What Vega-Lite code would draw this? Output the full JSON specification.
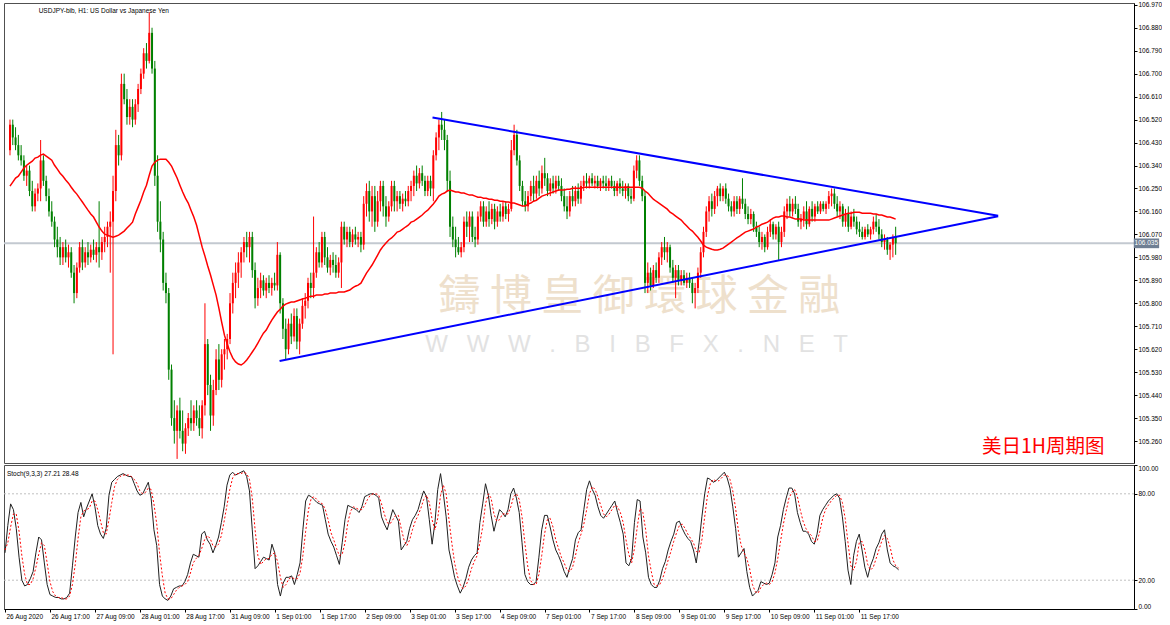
{
"$schema": "https://vega.github.io/schema/vega-lite/v6.json",
"padding": {"left": 2, "top": 1, "right": 0, "bottom": 0},
"background": "white",
"spacing": 2,
"bounds": "flush",
"config": {
  "font": "Liberation Sans",
  "view": {"stroke": "#505050", "strokeWidth": 1},
  "axis": {"labelFont": "Liberation Sans", "labelFontSize": 6.5, "labelColor": "#000000", "domainColor": "#000000", "tickColor": "#000000", "tickSize": 3, "labelPadding": 1, "grid": false, "title": null, "labelOverlap": false}
},
"datasets": {
"bars": [
{"i":0,"o":106.40,"h":106.52,"l":106.38,"c":106.50,"m":106.259,"k":39,"d":41},
{"i":1,"o":106.50,"h":106.52,"l":106.42,"c":106.45,"m":106.275,"k":58,"d":46},
{"i":2,"o":106.45,"h":106.49,"l":106.40,"c":106.42,"m":106.291,"k":73,"d":57},
{"i":3,"o":106.42,"h":106.46,"l":106.36,"c":106.38,"m":106.298,"k":69,"d":66},
{"i":4,"o":106.38,"h":106.42,"l":106.34,"c":106.36,"m":106.314,"k":56,"d":66},
{"i":5,"o":106.36,"h":106.38,"l":106.28,"c":106.30,"m":106.330,"k":36,"d":54},
{"i":6,"o":106.30,"h":106.34,"l":106.26,"c":106.32,"m":106.341,"k":20,"d":37},
{"i":7,"o":106.32,"h":106.34,"l":106.22,"c":106.24,"m":106.349,"k":16,"d":24},
{"i":8,"o":106.24,"h":106.28,"l":106.16,"c":106.18,"m":106.357,"k":17,"d":17},
{"i":9,"o":106.18,"h":106.25,"l":106.16,"c":106.23,"m":106.369,"k":21,"d":17},
{"i":10,"o":106.23,"h":106.27,"l":106.20,"c":106.25,"m":106.373,"k":26,"d":21},
{"i":11,"o":106.25,"h":106.44,"l":106.20,"c":106.36,"m":106.381,"k":39,"d":29},
{"i":12,"o":106.36,"h":106.38,"l":106.26,"c":106.28,"m":106.385,"k":50,"d":38},
{"i":13,"o":106.28,"h":106.30,"l":106.20,"c":106.22,"m":106.377,"k":48,"d":46},
{"i":14,"o":106.22,"h":106.25,"l":106.14,"c":106.16,"m":106.369,"k":32,"d":44},
{"i":15,"o":106.16,"h":106.20,"l":106.10,"c":106.12,"m":106.361,"k":17,"d":32},
{"i":16,"o":106.12,"h":106.14,"l":106.02,"c":106.05,"m":106.341,"k":10,"d":19},
{"i":17,"o":106.05,"h":106.10,"l":105.98,"c":106.02,"m":106.326,"k":9,"d":12},
{"i":18,"o":106.02,"h":106.06,"l":105.95,"c":105.98,"m":106.310,"k":8,"d":9},
{"i":19,"o":105.98,"h":106.04,"l":105.95,"c":106.02,"m":106.298,"k":8,"d":8},
{"i":20,"o":106.02,"h":106.05,"l":105.96,"c":105.98,"m":106.283,"k":7,"d":8},
{"i":21,"o":105.98,"h":106.03,"l":105.94,"c":106.00,"m":106.271,"k":7,"d":7},
{"i":22,"o":106.00,"h":106.02,"l":105.90,"c":105.92,"m":106.255,"k":8,"d":7},
{"i":23,"o":105.92,"h":105.95,"l":105.80,"c":105.84,"m":106.240,"k":11,"d":9},
{"i":24,"o":105.84,"h":105.96,"l":105.82,"c":105.94,"m":106.228,"k":30,"d":17},
{"i":25,"o":105.94,"h":106.04,"l":105.92,"c":106.02,"m":106.212,"k":50,"d":31},
{"i":26,"o":106.02,"h":106.05,"l":105.93,"c":105.96,"m":106.197,"k":67,"d":49},
{"i":27,"o":105.96,"h":106.02,"l":105.94,"c":106.00,"m":106.181,"k":74,"d":64},
{"i":28,"o":106.00,"h":106.04,"l":105.95,"c":105.98,"m":106.165,"k":64,"d":68},
{"i":29,"o":105.98,"h":106.03,"l":105.96,"c":106.01,"m":106.150,"k":70,"d":69},
{"i":30,"o":106.01,"h":106.05,"l":105.97,"c":105.99,"m":106.138,"k":75,"d":70},
{"i":31,"o":105.99,"h":106.04,"l":105.96,"c":106.02,"m":106.118,"k":80,"d":75},
{"i":32,"o":106.02,"h":106.20,"l":105.94,"c":106.00,"m":106.099,"k":71,"d":75},
{"i":33,"o":106.00,"h":106.06,"l":105.97,"c":106.04,"m":106.083,"k":58,"d":69},
{"i":34,"o":106.04,"h":106.10,"l":106.00,"c":106.06,"m":106.071,"k":52,"d":61},
{"i":35,"o":106.06,"h":106.12,"l":106.02,"c":106.10,"m":106.067,"k":49,"d":53},
{"i":36,"o":106.10,"h":106.16,"l":105.92,"c":106.12,"m":106.063,"k":56,"d":52},
{"i":37,"o":106.12,"h":106.30,"l":105.60,"c":106.24,"m":106.059,"k":79,"d":62},
{"i":38,"o":106.24,"h":106.48,"l":106.20,"c":106.42,"m":106.063,"k":88,"d":74},
{"i":39,"o":106.42,"h":106.46,"l":106.34,"c":106.38,"m":106.067,"k":90,"d":85},
{"i":40,"o":106.38,"h":106.70,"l":106.36,"c":106.66,"m":106.075,"k":92,"d":90},
{"i":41,"o":106.66,"h":106.70,"l":106.58,"c":106.60,"m":106.083,"k":93,"d":92},
{"i":42,"o":106.60,"h":106.64,"l":106.50,"c":106.53,"m":106.095,"k":94,"d":93},
{"i":43,"o":106.53,"h":106.60,"l":106.50,"c":106.57,"m":106.106,"k":93,"d":93},
{"i":44,"o":106.57,"h":106.60,"l":106.49,"c":106.52,"m":106.118,"k":92,"d":93},
{"i":45,"o":106.52,"h":106.60,"l":106.50,"c":106.58,"m":106.150,"k":92,"d":92},
{"i":46,"o":106.58,"h":106.66,"l":106.55,"c":106.64,"m":106.177,"k":87,"d":90},
{"i":47,"o":106.64,"h":106.72,"l":106.62,"c":106.70,"m":106.204,"k":82,"d":87},
{"i":48,"o":106.70,"h":106.80,"l":106.68,"c":106.78,"m":106.236,"k":79,"d":82},
{"i":49,"o":106.78,"h":106.82,"l":106.72,"c":106.75,"m":106.263,"k":80,"d":80},
{"i":50,"o":106.75,"h":106.94,"l":106.74,"c":106.86,"m":106.302,"k":84,"d":81},
{"i":51,"o":106.86,"h":106.88,"l":106.70,"c":106.72,"m":106.338,"k":88,"d":84},
{"i":52,"o":106.72,"h":106.75,"l":106.26,"c":106.30,"m":106.353,"k":77,"d":83},
{"i":53,"o":106.30,"h":106.38,"l":106.08,"c":106.12,"m":106.361,"k":55,"d":73},
{"i":54,"o":106.12,"h":106.20,"l":106.00,"c":106.05,"m":106.365,"k":44,"d":59},
{"i":55,"o":106.05,"h":106.08,"l":105.85,"c":105.88,"m":106.365,"k":17,"d":39},
{"i":56,"o":105.88,"h":105.92,"l":105.80,"c":105.84,"m":106.365,"k":9,"d":23},
{"i":57,"o":105.84,"h":105.86,"l":105.50,"c":105.54,"m":106.353,"k":7,"d":11},
{"i":58,"o":105.54,"h":105.56,"l":105.32,"c":105.35,"m":106.338,"k":6,"d":7},
{"i":59,"o":105.35,"h":105.42,"l":105.25,"c":105.30,"m":106.314,"k":9,"d":7},
{"i":60,"o":105.30,"h":105.40,"l":105.19,"c":105.38,"m":106.291,"k":14,"d":10},
{"i":61,"o":105.38,"h":105.43,"l":105.27,"c":105.30,"m":106.263,"k":15,"d":13},
{"i":62,"o":105.30,"h":105.38,"l":105.22,"c":105.25,"m":106.236,"k":16,"d":15},
{"i":63,"o":105.25,"h":105.33,"l":105.21,"c":105.31,"m":106.212,"k":16,"d":16},
{"i":64,"o":105.31,"h":105.37,"l":105.28,"c":105.35,"m":106.193,"k":19,"d":17},
{"i":65,"o":105.35,"h":105.42,"l":105.30,"c":105.33,"m":106.165,"k":24,"d":19},
{"i":66,"o":105.33,"h":105.40,"l":105.30,"c":105.38,"m":106.138,"k":32,"d":25},
{"i":67,"o":105.38,"h":105.42,"l":105.32,"c":105.35,"m":106.106,"k":38,"d":32},
{"i":68,"o":105.35,"h":105.40,"l":105.28,"c":105.31,"m":106.063,"k":37,"d":35},
{"i":69,"o":105.31,"h":105.42,"l":105.27,"c":105.40,"m":106.020,"k":36,"d":37},
{"i":70,"o":105.40,"h":105.80,"l":105.36,"c":105.64,"m":105.985,"k":52,"d":42},
{"i":71,"o":105.64,"h":105.66,"l":105.44,"c":105.48,"m":105.946,"k":54,"d":48},
{"i":72,"o":105.48,"h":105.52,"l":105.30,"c":105.36,"m":105.911,"k":48,"d":51},
{"i":73,"o":105.36,"h":105.50,"l":105.32,"c":105.46,"m":105.871,"k":45,"d":49},
{"i":74,"o":105.46,"h":105.62,"l":105.44,"c":105.58,"m":105.832,"k":39,"d":44},
{"i":75,"o":105.58,"h":105.64,"l":105.46,"c":105.50,"m":105.781,"k":44,"d":43},
{"i":76,"o":105.50,"h":105.62,"l":105.47,"c":105.60,"m":105.726,"k":50,"d":45},
{"i":77,"o":105.60,"h":105.66,"l":105.54,"c":105.62,"m":105.675,"k":60,"d":51},
{"i":78,"o":105.62,"h":105.68,"l":105.58,"c":105.66,"m":105.640,"k":71,"d":61},
{"i":79,"o":105.66,"h":105.84,"l":105.64,"c":105.80,"m":105.609,"k":86,"d":72},
{"i":80,"o":105.80,"h":105.92,"l":105.76,"c":105.88,"m":105.585,"k":93,"d":83},
{"i":81,"o":105.88,"h":105.96,"l":105.82,"c":105.92,"m":105.570,"k":95,"d":91},
{"i":82,"o":105.92,"h":106.00,"l":105.86,"c":105.96,"m":105.562,"k":93,"d":94},
{"i":83,"o":105.96,"h":106.02,"l":105.90,"c":106.00,"m":105.558,"k":94,"d":94},
{"i":84,"o":106.00,"h":106.06,"l":105.96,"c":106.04,"m":105.566,"k":95,"d":94},
{"i":85,"o":106.04,"h":106.08,"l":105.98,"c":106.02,"m":105.578,"k":96,"d":95},
{"i":86,"o":106.02,"h":106.08,"l":105.96,"c":106.06,"m":105.593,"k":92,"d":94},
{"i":87,"o":106.06,"h":106.08,"l":105.90,"c":105.93,"m":105.609,"k":82,"d":90},
{"i":88,"o":105.93,"h":105.96,"l":105.78,"c":105.82,"m":105.625,"k":55,"d":77},
{"i":89,"o":105.82,"h":105.90,"l":105.79,"c":105.86,"m":105.644,"k":28,"d":55},
{"i":90,"o":105.86,"h":105.92,"l":105.82,"c":105.89,"m":105.664,"k":30,"d":37},
{"i":91,"o":105.89,"h":105.91,"l":105.83,"c":105.85,"m":105.683,"k":33,"d":31},
{"i":92,"o":105.85,"h":105.90,"l":105.82,"c":105.88,"m":105.695,"k":36,"d":33},
{"i":93,"o":105.88,"h":105.91,"l":105.84,"c":105.86,"m":105.715,"k":35,"d":35},
{"i":94,"o":105.86,"h":105.90,"l":105.83,"c":105.88,"m":105.734,"k":34,"d":35},
{"i":95,"o":105.88,"h":105.92,"l":105.85,"c":105.87,"m":105.750,"k":45,"d":38},
{"i":96,"o":105.87,"h":106.04,"l":105.85,"c":105.99,"m":105.766,"k":39,"d":39},
{"i":97,"o":105.99,"h":106.00,"l":105.76,"c":105.80,"m":105.777,"k":17,"d":33},
{"i":98,"o":105.80,"h":105.82,"l":105.66,"c":105.70,"m":105.789,"k":9,"d":22},
{"i":99,"o":105.70,"h":105.74,"l":105.58,"c":105.62,"m":105.797,"k":18,"d":15},
{"i":100,"o":105.62,"h":105.74,"l":105.60,"c":105.72,"m":105.801,"k":22,"d":17},
{"i":101,"o":105.72,"h":105.76,"l":105.64,"c":105.67,"m":105.805,"k":22,"d":21},
{"i":102,"o":105.67,"h":105.78,"l":105.65,"c":105.75,"m":105.805,"k":23,"d":22},
{"i":103,"o":105.75,"h":105.78,"l":105.62,"c":105.65,"m":105.809,"k":17,"d":21},
{"i":104,"o":105.65,"h":105.74,"l":105.60,"c":105.72,"m":105.813,"k":24,"d":21},
{"i":105,"o":105.72,"h":105.82,"l":105.70,"c":105.79,"m":105.817,"k":32,"d":25},
{"i":106,"o":105.79,"h":105.84,"l":105.74,"c":105.81,"m":105.820,"k":55,"d":37},
{"i":107,"o":105.81,"h":105.90,"l":105.78,"c":105.88,"m":105.824,"k":75,"d":54},
{"i":108,"o":105.88,"h":105.92,"l":105.82,"c":105.86,"m":105.828,"k":79,"d":69},
{"i":109,"o":105.86,"h":106.14,"l":105.82,"c":105.92,"m":105.828,"k":78,"d":77},
{"i":110,"o":105.92,"h":106.02,"l":105.90,"c":106.00,"m":105.832,"k":76,"d":78},
{"i":111,"o":106.00,"h":106.04,"l":105.94,"c":105.96,"m":105.832,"k":74,"d":76},
{"i":112,"o":105.96,"h":106.08,"l":105.94,"c":106.06,"m":105.832,"k":73,"d":74},
{"i":113,"o":106.06,"h":106.08,"l":105.95,"c":105.98,"m":105.836,"k":72,"d":73},
{"i":114,"o":105.98,"h":106.02,"l":105.92,"c":105.94,"m":105.836,"k":62,"d":69},
{"i":115,"o":105.94,"h":105.99,"l":105.91,"c":105.97,"m":105.840,"k":52,"d":62},
{"i":116,"o":105.97,"h":106.00,"l":105.92,"c":105.95,"m":105.840,"k":47,"d":53},
{"i":117,"o":105.95,"h":105.99,"l":105.90,"c":105.92,"m":105.840,"k":43,"d":48},
{"i":118,"o":105.92,"h":105.98,"l":105.90,"c":105.96,"m":105.844,"k":37,"d":42},
{"i":119,"o":105.96,"h":106.12,"l":105.86,"c":106.10,"m":105.844,"k":31,"d":37},
{"i":120,"o":106.10,"h":106.12,"l":106.03,"c":106.05,"m":105.844,"k":46,"d":38},
{"i":121,"o":106.05,"h":106.10,"l":106.02,"c":106.08,"m":105.848,"k":62,"d":46},
{"i":122,"o":106.08,"h":106.10,"l":106.02,"c":106.04,"m":105.852,"k":72,"d":60},
{"i":123,"o":106.04,"h":106.09,"l":106.02,"c":106.07,"m":105.860,"k":71,"d":68},
{"i":124,"o":106.07,"h":106.10,"l":106.03,"c":106.05,"m":105.867,"k":70,"d":71},
{"i":125,"o":106.05,"h":106.08,"l":106.02,"c":106.06,"m":105.871,"k":69,"d":70},
{"i":126,"o":106.06,"h":106.08,"l":106.00,"c":106.03,"m":105.879,"k":67,"d":69},
{"i":127,"o":106.03,"h":106.22,"l":106.01,"c":106.19,"m":105.899,"k":71,"d":69},
{"i":128,"o":106.19,"h":106.27,"l":106.14,"c":106.24,"m":105.918,"k":78,"d":72},
{"i":129,"o":106.24,"h":106.28,"l":106.12,"c":106.16,"m":105.934,"k":79,"d":76},
{"i":130,"o":106.16,"h":106.26,"l":106.10,"c":106.22,"m":105.950,"k":80,"d":79},
{"i":131,"o":106.22,"h":106.26,"l":106.08,"c":106.12,"m":105.969,"k":80,"d":80},
{"i":132,"o":106.12,"h":106.24,"l":106.10,"c":106.20,"m":105.989,"k":79,"d":80},
{"i":133,"o":106.20,"h":106.28,"l":106.16,"c":106.26,"m":106.009,"k":77,"d":79},
{"i":134,"o":106.26,"h":106.28,"l":106.14,"c":106.18,"m":106.024,"k":64,"d":73},
{"i":135,"o":106.18,"h":106.22,"l":106.10,"c":106.14,"m":106.036,"k":59,"d":66},
{"i":136,"o":106.14,"h":106.20,"l":106.12,"c":106.18,"m":106.048,"k":55,"d":60},
{"i":137,"o":106.18,"h":106.28,"l":106.16,"c":106.26,"m":106.056,"k":62,"d":59},
{"i":138,"o":106.26,"h":106.28,"l":106.16,"c":106.20,"m":106.067,"k":69,"d":62},
{"i":139,"o":106.20,"h":106.24,"l":106.16,"c":106.22,"m":106.079,"k":65,"d":65},
{"i":140,"o":106.22,"h":106.24,"l":106.17,"c":106.19,"m":106.083,"k":61,"d":65},
{"i":141,"o":106.19,"h":106.23,"l":106.16,"c":106.21,"m":106.091,"k":41,"d":56},
{"i":142,"o":106.21,"h":106.24,"l":106.18,"c":106.20,"m":106.099,"k":44,"d":48},
{"i":143,"o":106.20,"h":106.26,"l":106.18,"c":106.24,"m":106.106,"k":47,"d":44},
{"i":144,"o":106.24,"h":106.28,"l":106.20,"c":106.26,"m":106.118,"k":56,"d":48},
{"i":145,"o":106.26,"h":106.32,"l":106.22,"c":106.30,"m":106.122,"k":62,"d":55},
{"i":146,"o":106.30,"h":106.34,"l":106.24,"c":106.27,"m":106.130,"k":65,"d":61},
{"i":147,"o":106.27,"h":106.33,"l":106.25,"c":106.31,"m":106.138,"k":69,"d":65},
{"i":148,"o":106.31,"h":106.34,"l":106.26,"c":106.28,"m":106.146,"k":76,"d":70},
{"i":149,"o":106.28,"h":106.30,"l":106.22,"c":106.24,"m":106.157,"k":82,"d":76},
{"i":150,"o":106.24,"h":106.30,"l":106.22,"c":106.28,"m":106.165,"k":78,"d":79},
{"i":151,"o":106.28,"h":106.30,"l":106.22,"c":106.25,"m":106.177,"k":62,"d":74},
{"i":152,"o":106.25,"h":106.40,"l":106.20,"c":106.38,"m":106.189,"k":45,"d":62},
{"i":153,"o":106.38,"h":106.47,"l":106.36,"c":106.45,"m":106.204,"k":60,"d":55},
{"i":154,"o":106.45,"h":106.52,"l":106.40,"c":106.50,"m":106.220,"k":83,"d":63},
{"i":155,"o":106.50,"h":106.55,"l":106.44,"c":106.48,"m":106.228,"k":94,"d":79},
{"i":156,"o":106.48,"h":106.52,"l":106.40,"c":106.44,"m":106.232,"k":80,"d":86},
{"i":157,"o":106.44,"h":106.46,"l":106.24,"c":106.28,"m":106.240,"k":64,"d":80},
{"i":158,"o":106.28,"h":106.32,"l":106.06,"c":106.10,"m":106.244,"k":41,"d":62},
{"i":159,"o":106.10,"h":106.14,"l":106.02,"c":106.05,"m":106.240,"k":32,"d":46},
{"i":160,"o":106.05,"h":106.10,"l":105.98,"c":106.02,"m":106.236,"k":22,"d":32},
{"i":161,"o":106.02,"h":106.06,"l":105.99,"c":106.00,"m":106.236,"k":16,"d":23},
{"i":162,"o":106.00,"h":106.04,"l":105.98,"c":106.02,"m":106.232,"k":11,"d":17},
{"i":163,"o":106.02,"h":106.14,"l":106.00,"c":106.12,"m":106.232,"k":15,"d":14},
{"i":164,"o":106.12,"h":106.16,"l":106.06,"c":106.10,"m":106.228,"k":21,"d":16},
{"i":165,"o":106.10,"h":106.16,"l":106.04,"c":106.14,"m":106.224,"k":29,"d":21},
{"i":166,"o":106.14,"h":106.16,"l":106.04,"c":106.06,"m":106.224,"k":34,"d":28},
{"i":167,"o":106.06,"h":106.10,"l":106.02,"c":106.05,"m":106.220,"k":37,"d":33},
{"i":168,"o":106.05,"h":106.16,"l":106.03,"c":106.14,"m":106.216,"k":39,"d":37},
{"i":169,"o":106.14,"h":106.20,"l":106.12,"c":106.18,"m":106.216,"k":60,"d":46},
{"i":170,"o":106.18,"h":106.20,"l":106.10,"c":106.12,"m":106.212,"k":73,"d":57},
{"i":171,"o":106.12,"h":106.18,"l":106.10,"c":106.16,"m":106.212,"k":87,"d":73},
{"i":172,"o":106.16,"h":106.20,"l":106.10,"c":106.13,"m":106.208,"k":79,"d":80},
{"i":173,"o":106.13,"h":106.19,"l":106.11,"c":106.17,"m":106.208,"k":65,"d":77},
{"i":174,"o":106.17,"h":106.19,"l":106.09,"c":106.12,"m":106.204,"k":54,"d":66},
{"i":175,"o":106.12,"h":106.18,"l":106.10,"c":106.16,"m":106.204,"k":62,"d":61},
{"i":176,"o":106.16,"h":106.19,"l":106.12,"c":106.14,"m":106.200,"k":69,"d":62},
{"i":177,"o":106.14,"h":106.20,"l":106.12,"c":106.18,"m":106.200,"k":67,"d":66},
{"i":178,"o":106.18,"h":106.20,"l":106.13,"c":106.15,"m":106.197,"k":64,"d":66},
{"i":179,"o":106.15,"h":106.19,"l":106.12,"c":106.17,"m":106.197,"k":69,"d":66},
{"i":180,"o":106.17,"h":106.44,"l":106.16,"c":106.40,"m":106.193,"k":80,"d":71},
{"i":181,"o":106.40,"h":106.50,"l":106.38,"c":106.46,"m":106.193,"k":84,"d":78},
{"i":182,"o":106.46,"h":106.48,"l":106.34,"c":106.36,"m":106.189,"k":77,"d":80},
{"i":183,"o":106.36,"h":106.38,"l":106.24,"c":106.26,"m":106.185,"k":67,"d":76},
{"i":184,"o":106.26,"h":106.28,"l":106.18,"c":106.20,"m":106.181,"k":46,"d":64},
{"i":185,"o":106.20,"h":106.24,"l":106.16,"c":106.18,"m":106.181,"k":24,"d":46},
{"i":186,"o":106.18,"h":106.24,"l":106.16,"c":106.22,"m":106.189,"k":19,"d":30},
{"i":187,"o":106.22,"h":106.28,"l":106.20,"c":106.26,"m":106.193,"k":17,"d":20},
{"i":188,"o":106.26,"h":106.30,"l":106.20,"c":106.23,"m":106.200,"k":17,"d":17},
{"i":189,"o":106.23,"h":106.30,"l":106.21,"c":106.28,"m":106.204,"k":19,"d":17},
{"i":190,"o":106.28,"h":106.32,"l":106.22,"c":106.25,"m":106.212,"k":36,"d":24},
{"i":191,"o":106.25,"h":106.34,"l":106.23,"c":106.31,"m":106.220,"k":55,"d":37},
{"i":192,"o":106.31,"h":106.37,"l":106.26,"c":106.29,"m":106.224,"k":65,"d":52},
{"i":193,"o":106.29,"h":106.31,"l":106.22,"c":106.24,"m":106.228,"k":65,"d":62},
{"i":194,"o":106.24,"h":106.29,"l":106.22,"c":106.27,"m":106.232,"k":57,"d":63},
{"i":195,"o":106.27,"h":106.30,"l":106.23,"c":106.25,"m":106.236,"k":48,"d":57},
{"i":196,"o":106.25,"h":106.30,"l":106.23,"c":106.28,"m":106.240,"k":41,"d":48},
{"i":197,"o":106.28,"h":106.30,"l":106.24,"c":106.26,"m":106.244,"k":37,"d":42},
{"i":198,"o":106.26,"h":106.29,"l":106.20,"c":106.22,"m":106.244,"k":32,"d":36},
{"i":199,"o":106.22,"h":106.25,"l":106.16,"c":106.18,"m":106.244,"k":26,"d":32},
{"i":200,"o":106.18,"h":106.22,"l":106.13,"c":106.16,"m":106.247,"k":22,"d":27},
{"i":201,"o":106.16,"h":106.24,"l":106.14,"c":106.22,"m":106.247,"k":29,"d":26},
{"i":202,"o":106.22,"h":106.26,"l":106.18,"c":106.20,"m":106.251,"k":35,"d":29},
{"i":203,"o":106.20,"h":106.26,"l":106.18,"c":106.24,"m":106.251,"k":48,"d":37},
{"i":204,"o":106.24,"h":106.27,"l":106.19,"c":106.21,"m":106.251,"k":53,"d":46},
{"i":205,"o":106.21,"h":106.28,"l":106.19,"c":106.26,"m":106.251,"k":55,"d":52},
{"i":206,"o":106.26,"h":106.30,"l":106.24,"c":106.28,"m":106.255,"k":69,"d":59},
{"i":207,"o":106.28,"h":106.31,"l":106.25,"c":106.27,"m":106.255,"k":83,"d":69},
{"i":208,"o":106.27,"h":106.30,"l":106.25,"c":106.29,"m":106.255,"k":89,"d":80},
{"i":209,"o":106.29,"h":106.31,"l":106.26,"c":106.27,"m":106.255,"k":83,"d":85},
{"i":210,"o":106.27,"h":106.30,"l":106.25,"c":106.28,"m":106.255,"k":79,"d":83},
{"i":211,"o":106.28,"h":106.30,"l":106.25,"c":106.26,"m":106.255,"k":71,"d":78},
{"i":212,"o":106.26,"h":106.29,"l":106.24,"c":106.28,"m":106.255,"k":65,"d":72},
{"i":213,"o":106.28,"h":106.30,"l":106.25,"c":106.27,"m":106.255,"k":63,"d":66},
{"i":214,"o":106.27,"h":106.30,"l":106.24,"c":106.26,"m":106.255,"k":66,"d":64},
{"i":215,"o":106.26,"h":106.29,"l":106.24,"c":106.28,"m":106.255,"k":69,"d":66},
{"i":216,"o":106.28,"h":106.30,"l":106.25,"c":106.26,"m":106.255,"k":72,"d":69},
{"i":217,"o":106.26,"h":106.28,"l":106.22,"c":106.24,"m":106.255,"k":75,"d":72},
{"i":218,"o":106.24,"h":106.28,"l":106.22,"c":106.27,"m":106.255,"k":67,"d":71},
{"i":219,"o":106.27,"h":106.29,"l":106.23,"c":106.25,"m":106.255,"k":60,"d":67},
{"i":220,"o":106.25,"h":106.28,"l":106.22,"c":106.24,"m":106.255,"k":52,"d":60},
{"i":221,"o":106.24,"h":106.27,"l":106.21,"c":106.26,"m":106.255,"k":32,"d":48},
{"i":222,"o":106.26,"h":106.27,"l":106.20,"c":106.22,"m":106.255,"k":30,"d":38},
{"i":223,"o":106.22,"h":106.25,"l":106.19,"c":106.21,"m":106.255,"k":35,"d":32},
{"i":224,"o":106.21,"h":106.34,"l":106.20,"c":106.32,"m":106.255,"k":60,"d":42},
{"i":225,"o":106.32,"h":106.38,"l":106.29,"c":106.36,"m":106.255,"k":76,"d":57},
{"i":226,"o":106.36,"h":106.38,"l":106.26,"c":106.28,"m":106.255,"k":75,"d":70},
{"i":227,"o":106.28,"h":106.30,"l":106.20,"c":106.22,"m":106.251,"k":50,"d":67},
{"i":228,"o":106.22,"h":106.24,"l":105.84,"c":105.88,"m":106.240,"k":39,"d":55},
{"i":229,"o":105.88,"h":105.96,"l":105.84,"c":105.92,"m":106.232,"k":22,"d":37},
{"i":230,"o":105.92,"h":105.94,"l":105.85,"c":105.87,"m":106.220,"k":17,"d":26},
{"i":231,"o":105.87,"h":105.95,"l":105.86,"c":105.93,"m":106.208,"k":15,"d":17},
{"i":232,"o":105.93,"h":105.96,"l":105.88,"c":105.90,"m":106.200,"k":15,"d":16},
{"i":233,"o":105.90,"h":106.00,"l":105.88,"c":105.98,"m":106.193,"k":20,"d":17},
{"i":234,"o":105.98,"h":106.04,"l":105.95,"c":106.02,"m":106.185,"k":28,"d":21},
{"i":235,"o":106.02,"h":106.06,"l":105.97,"c":106.00,"m":106.177,"k":33,"d":27},
{"i":236,"o":106.00,"h":106.04,"l":105.96,"c":106.02,"m":106.169,"k":41,"d":34},
{"i":237,"o":106.02,"h":106.03,"l":105.92,"c":105.94,"m":106.157,"k":47,"d":40},
{"i":238,"o":105.94,"h":105.97,"l":105.88,"c":105.90,"m":106.150,"k":52,"d":47},
{"i":239,"o":105.90,"h":105.95,"l":105.82,"c":105.93,"m":106.142,"k":60,"d":53},
{"i":240,"o":105.93,"h":105.95,"l":105.87,"c":105.89,"m":106.134,"k":61,"d":58},
{"i":241,"o":105.89,"h":105.93,"l":105.87,"c":105.91,"m":106.126,"k":56,"d":59},
{"i":242,"o":105.91,"h":105.93,"l":105.87,"c":105.88,"m":106.114,"k":52,"d":56},
{"i":243,"o":105.88,"h":105.92,"l":105.86,"c":105.90,"m":106.103,"k":49,"d":52},
{"i":244,"o":105.90,"h":105.92,"l":105.86,"c":105.88,"m":106.091,"k":47,"d":49},
{"i":245,"o":105.88,"h":105.90,"l":105.80,"c":105.84,"m":106.083,"k":41,"d":46},
{"i":246,"o":105.84,"h":105.88,"l":105.78,"c":105.86,"m":106.071,"k":32,"d":40},
{"i":247,"o":105.86,"h":105.94,"l":105.84,"c":105.92,"m":106.059,"k":46,"d":39},
{"i":248,"o":105.92,"h":106.02,"l":105.90,"c":106.00,"m":106.044,"k":64,"d":48},
{"i":249,"o":106.00,"h":106.10,"l":105.98,"c":106.08,"m":106.028,"k":80,"d":64},
{"i":250,"o":106.08,"h":106.18,"l":106.06,"c":106.16,"m":106.020,"k":91,"d":79},
{"i":251,"o":106.16,"h":106.22,"l":106.12,"c":106.20,"m":106.016,"k":90,"d":87},
{"i":252,"o":106.20,"h":106.23,"l":106.14,"c":106.17,"m":106.012,"k":88,"d":90},
{"i":253,"o":106.17,"h":106.24,"l":106.15,"c":106.22,"m":106.009,"k":89,"d":89},
{"i":254,"o":106.22,"h":106.26,"l":106.18,"c":106.25,"m":106.009,"k":91,"d":89},
{"i":255,"o":106.25,"h":106.27,"l":106.20,"c":106.22,"m":106.012,"k":93,"d":91},
{"i":256,"o":106.22,"h":106.26,"l":106.20,"c":106.25,"m":106.016,"k":95,"d":93},
{"i":257,"o":106.25,"h":106.27,"l":106.19,"c":106.21,"m":106.024,"k":91,"d":93},
{"i":258,"o":106.21,"h":106.23,"l":106.16,"c":106.18,"m":106.032,"k":84,"d":90},
{"i":259,"o":106.18,"h":106.20,"l":106.14,"c":106.16,"m":106.040,"k":71,"d":82},
{"i":260,"o":106.16,"h":106.22,"l":106.14,"c":106.20,"m":106.048,"k":56,"d":70},
{"i":261,"o":106.20,"h":106.22,"l":106.15,"c":106.17,"m":106.056,"k":36,"d":54},
{"i":262,"o":106.17,"h":106.22,"l":106.15,"c":106.21,"m":106.063,"k":39,"d":44},
{"i":263,"o":106.21,"h":106.29,"l":106.17,"c":106.19,"m":106.071,"k":42,"d":39},
{"i":264,"o":106.19,"h":106.21,"l":106.13,"c":106.15,"m":106.079,"k":26,"d":35},
{"i":265,"o":106.15,"h":106.18,"l":106.11,"c":106.13,"m":106.083,"k":15,"d":28},
{"i":266,"o":106.13,"h":106.17,"l":106.11,"c":106.15,"m":106.087,"k":9,"d":17},
{"i":267,"o":106.15,"h":106.16,"l":106.08,"c":106.10,"m":106.091,"k":11,"d":12},
{"i":268,"o":106.10,"h":106.12,"l":106.06,"c":106.08,"m":106.099,"k":13,"d":11},
{"i":269,"o":106.08,"h":106.10,"l":106.02,"c":106.04,"m":106.103,"k":19,"d":15},
{"i":270,"o":106.04,"h":106.08,"l":106.01,"c":106.06,"m":106.110,"k":18,"d":17},
{"i":271,"o":106.06,"h":106.07,"l":106.00,"c":106.02,"m":106.114,"k":17,"d":18},
{"i":272,"o":106.02,"h":106.10,"l":106.01,"c":106.08,"m":106.118,"k":18,"d":17},
{"i":273,"o":106.08,"h":106.13,"l":106.06,"c":106.11,"m":106.126,"k":24,"d":19},
{"i":274,"o":106.11,"h":106.12,"l":106.05,"c":106.07,"m":106.134,"k":32,"d":25},
{"i":275,"o":106.07,"h":106.11,"l":106.05,"c":106.10,"m":106.138,"k":50,"d":35},
{"i":276,"o":106.10,"h":106.12,"l":105.97,"c":106.04,"m":106.138,"k":58,"d":47},
{"i":277,"o":106.04,"h":106.10,"l":106.02,"c":106.08,"m":106.142,"k":69,"d":59},
{"i":278,"o":106.08,"h":106.18,"l":106.06,"c":106.16,"m":106.142,"k":77,"d":68},
{"i":279,"o":106.16,"h":106.21,"l":106.13,"c":106.19,"m":106.138,"k":84,"d":77},
{"i":280,"o":106.19,"h":106.22,"l":106.14,"c":106.16,"m":106.138,"k":84,"d":81},
{"i":281,"o":106.16,"h":106.21,"l":106.14,"c":106.19,"m":106.134,"k":80,"d":83},
{"i":282,"o":106.19,"h":106.22,"l":106.15,"c":106.17,"m":106.130,"k":67,"d":78},
{"i":283,"o":106.17,"h":106.19,"l":106.10,"c":106.12,"m":106.130,"k":60,"d":69},
{"i":284,"o":106.12,"h":106.15,"l":106.09,"c":106.13,"m":106.130,"k":54,"d":61},
{"i":285,"o":106.13,"h":106.18,"l":106.10,"c":106.16,"m":106.126,"k":54,"d":56},
{"i":286,"o":106.16,"h":106.20,"l":106.09,"c":106.11,"m":106.126,"k":52,"d":53},
{"i":287,"o":106.11,"h":106.18,"l":106.10,"c":106.17,"m":106.126,"k":47,"d":51},
{"i":288,"o":106.17,"h":106.20,"l":106.12,"c":106.14,"m":106.126,"k":45,"d":47},
{"i":289,"o":106.14,"h":106.19,"l":106.12,"c":106.18,"m":106.126,"k":52,"d":47},
{"i":290,"o":106.18,"h":106.20,"l":106.15,"c":106.16,"m":106.126,"k":65,"d":54},
{"i":291,"o":106.16,"h":106.20,"l":106.15,"c":106.19,"m":106.126,"k":69,"d":63},
{"i":292,"o":106.19,"h":106.20,"l":106.16,"c":106.17,"m":106.126,"k":72,"d":69},
{"i":293,"o":106.17,"h":106.20,"l":106.15,"c":106.19,"m":106.126,"k":75,"d":72},
{"i":294,"o":106.19,"h":106.24,"l":106.17,"c":106.22,"m":106.126,"k":77,"d":75},
{"i":295,"o":106.22,"h":106.25,"l":106.18,"c":106.23,"m":106.130,"k":79,"d":77},
{"i":296,"o":106.23,"h":106.25,"l":106.17,"c":106.19,"m":106.134,"k":80,"d":79},
{"i":297,"o":106.19,"h":106.22,"l":106.14,"c":106.16,"m":106.138,"k":77,"d":79},
{"i":298,"o":106.16,"h":106.20,"l":106.13,"c":106.18,"m":106.142,"k":64,"d":74},
{"i":299,"o":106.18,"h":106.19,"l":106.10,"c":106.12,"m":106.146,"k":47,"d":63},
{"i":300,"o":106.12,"h":106.17,"l":106.10,"c":106.15,"m":106.150,"k":27,"d":46},
{"i":301,"o":106.15,"h":106.18,"l":106.08,"c":106.10,"m":106.153,"k":17,"d":30},
{"i":302,"o":106.10,"h":106.16,"l":106.09,"c":106.14,"m":106.153,"k":37,"d":27},
{"i":303,"o":106.14,"h":106.17,"l":106.10,"c":106.12,"m":106.157,"k":47,"d":33},
{"i":304,"o":106.12,"h":106.14,"l":106.07,"c":106.09,"m":106.157,"k":52,"d":46},
{"i":305,"o":106.09,"h":106.12,"l":106.06,"c":106.08,"m":106.157,"k":41,"d":47},
{"i":306,"o":106.08,"h":106.10,"l":106.05,"c":106.06,"m":106.153,"k":29,"d":41},
{"i":307,"o":106.06,"h":106.10,"l":106.05,"c":106.09,"m":106.153,"k":22,"d":31},
{"i":308,"o":106.09,"h":106.11,"l":106.06,"c":106.07,"m":106.153,"k":30,"d":27},
{"i":309,"o":106.07,"h":106.10,"l":106.05,"c":106.09,"m":106.153,"k":35,"d":29},
{"i":310,"o":106.09,"h":106.14,"l":106.07,"c":106.12,"m":106.150,"k":42,"d":35},
{"i":311,"o":106.12,"h":106.15,"l":106.08,"c":106.10,"m":106.150,"k":46,"d":41},
{"i":312,"o":106.10,"h":106.13,"l":106.05,"c":106.07,"m":106.146,"k":52,"d":47},
{"i":313,"o":106.07,"h":106.09,"l":106.02,"c":106.04,"m":106.146,"k":55,"d":51},
{"i":314,"o":106.04,"h":106.07,"l":106.01,"c":106.05,"m":106.142,"k":41,"d":49},
{"i":315,"o":106.05,"h":106.06,"l":105.99,"c":106.01,"m":106.138,"k":32,"d":43},
{"i":316,"o":106.01,"h":106.04,"l":105.97,"c":106.03,"m":106.138,"k":30,"d":34},
{"i":317,"o":106.03,"h":106.07,"l":105.98,"c":106.06,"m":106.134,"k":29,"d":30},
{"i":318,"o":106.06,"h":106.10,"l":105.99,"c":106.035,"m":106.130,"k":27.21,"d":28.48}
],
"trend": [
{"g":"upper","i":151.7,"p":106.528},
{"g":"upper","i":354.8,"p":106.143},
{"g":"lower","i":96.8,"p":105.574},
{"g":"lower","i":354.8,"p":106.141}
],
"levels": [{"lv":20},{"lv":80}]
},
"vconcat": [
{
  "width": 1130,
  "height": 460,
  "layer": [
    {
      "data": {"values": [{"t": "鑄 博 皇 御 環 球 金 融"}]},
      "mark": {"type": "text", "font": "Noto Sans CJK TC", "fontSize": 42, "color": "#eee0cc", "align": "center", "baseline": "middle"},
      "encoding": {"text": {"field": "t"}, "x": {"datum": 226, "type": "quantitative"}, "y": {"datum": 105.824, "type": "quantitative"}}
    },
    {
      "data": {"values": [{"t": "W\u2002\u00a0W\u2002\u00a0W\u2002\u00a0.\u2002\u00a0B\u2002\u00a0I\u2002\u00a0B\u2002\u00a0F\u2002\u00a0X\u2002\u00a0.\u2002\u00a0N\u2002\u00a0E\u2002\u00a0T"}]},
      "mark": {"type": "text", "font": "Liberation Sans", "fontSize": 24, "color": "#e2e2e2", "align": "center", "baseline": "middle"},
      "encoding": {"text": {"field": "t"}, "x": {"datum": 225, "type": "quantitative"}, "y": {"datum": 105.636, "type": "quantitative"}}
    },
    {
      "data": {"values": [{"t": "USDJPY-bib, H1:  US Dollar vs Japanese Yen"}]},
      "mark": {"type": "text", "font": "Liberation Sans", "fontSize": 6.5, "color": "#000000", "align": "left", "baseline": "alphabetic"},
      "encoding": {"text": {"field": "t"}, "x": {"datum": 10.3, "type": "quantitative"}, "y": {"datum": 106.937, "type": "quantitative"}}
    },
    {
      "data": {"values": [{"p": 106.035}]},
      "mark": {"type": "rule", "color": "#c3c9d0", "strokeWidth": 2},
      "encoding": {"y": {"field": "p", "type": "quantitative"}}
    },
    {
      "data": {"name": "bars"},
      "mark": {"type": "rule", "strokeWidth": 1},
      "encoding": {
        "x": {"field": "i", "type": "quantitative", "scale": {"domain": [-0.356, 401.78], "nice": false, "zero": false}, "axis": null},
        "y": {"field": "l", "type": "quantitative", "scale": {"domain": [105.174, 106.977], "nice": false, "zero": false},
              "axis": {"orient": "right", "labelOverlap": false, "tickCount": 40, "values": [105.26,105.35,105.44,105.53,105.62,105.71,105.80,105.89,105.98,106.07,106.16,106.25,106.34,106.43,106.52,106.61,106.70,106.79,106.88,106.97], "format": ".3f"}},
        "y2": {"field": "h"},
        "color": {"condition": {"test": "datum.c >= datum.o", "value": "#ff0000"}, "value": "#008000"}
      }
    },
    {
      "data": {"name": "bars"},
      "mark": {"type": "bar", "size": 2},
      "encoding": {
        "x": {"field": "i", "type": "quantitative"},
        "y": {"field": "o", "type": "quantitative"},
        "y2": {"field": "c"},
        "color": {"condition": {"test": "datum.c >= datum.o", "value": "#ff0000"}, "value": "#008000"}
      }
    },
    {
      "data": {"name": "bars"},
      "mark": {"type": "line", "color": "#ff0000", "strokeWidth": 1.5},
      "encoding": {"x": {"field": "i", "type": "quantitative"}, "y": {"field": "m", "type": "quantitative"}}
    },
    {
      "data": {"name": "trend"},
      "mark": {"type": "line", "color": "#0000ff", "strokeWidth": 2},
      "encoding": {"x": {"field": "i", "type": "quantitative"}, "y": {"field": "p", "type": "quantitative"}, "detail": {"field": "g"}}
    },
    {
      "data": {"values": [{"p": 106.035}]},
      "mark": {"type": "rect", "color": "#6f7f93", "clip": false},
      "encoding": {"x": {"datum": 403.5, "type": "quantitative"}, "x2": {"datum": 412.6}, "y": {"datum": 106.054, "type": "quantitative"}, "y2": {"datum": 106.016}}
    },
    {
      "data": {"values": [{"t": "106.035"}]},
      "mark": {"type": "text", "color": "#ffffff", "font": "Liberation Sans", "fontSize": 6.5, "align": "center", "baseline": "middle"},
      "encoding": {"text": {"field": "t"}, "x": {"datum": 408.0, "type": "quantitative"}, "y": {"datum": 106.035, "type": "quantitative"}}
    },
    {
      "data": {"values": [{"t": "美日1H周期图"}]},
      "mark": {"type": "text", "color": "#ff0000", "font": "Noto Sans CJK SC", "fontSize": 19.5, "align": "right", "baseline": "middle"},
      "encoding": {"text": {"field": "t"}, "x": {"datum": 393.0, "type": "quantitative"}, "y": {"datum": 105.237, "type": "quantitative"}}
    }
  ]
},
{
  "width": 1130,
  "height": 144,
  "layer": [
    {
      "data": {"name": "levels"},
      "mark": {"type": "rule", "color": "#c0c0c0", "strokeDash": [2, 2], "strokeWidth": 1},
      "encoding": {"y": {"field": "lv", "type": "quantitative"}}
    },
    {
      "data": {"values": [{"t": "Stoch(9,3,3) 27.21 28.48"}]},
      "mark": {"type": "text", "font": "Liberation Sans", "fontSize": 6.5, "color": "#000000", "align": "left", "baseline": "alphabetic"},
      "encoding": {"text": {"field": "t"}, "x": {"datum": 0.7, "type": "quantitative"}, "y": {"datum": 92.5, "type": "quantitative"}}
    },
    {
      "data": {"name": "bars"},
      "mark": {"type": "line", "color": "#202020", "strokeWidth": 1},
      "encoding": {
        "x": {"field": "i", "type": "quantitative", "scale": {"domain": [-0.356, 401.78], "nice": false, "zero": false},
              "axis": {"values": [0,16,32,48,64,80,96,112,128,144,160,176,192,208,224,240,256,272,288,304], "tickCount": 40,
                       "labelExpr": "['26 Aug 2020','26 Aug 17:00','27 Aug 09:00','28 Aug 01:00','28 Aug 17:00','31 Aug 09:00','1 Sep 01:00','1 Sep 17:00','2 Sep 09:00','3 Sep 01:00','3 Sep 17:00','4 Sep 09:00','7 Sep 01:00','7 Sep 17:00','8 Sep 09:00','9 Sep 01:00','9 Sep 17:00','10 Sep 09:00','11 Sep 01:00','11 Sep 17:00'][round(datum.value/16)]",
                       "labelAlign": "left", "labelBaseline": "top", "labelOffset": 1, "labelPadding": 1.5, "labelFlush": false, "labelOverlap": false}},
        "y": {"field": "k", "type": "quantitative", "scale": {"domain": [0, 100], "nice": false, "zero": false},
              "axis": {"orient": "right", "labelOverlap": false, "values": [0, 20, 80, 100], "format": ".2f",
                       "labelBaseline": {"condition": [{"test": "datum.value === 100", "value": "top"}, {"test": "datum.value === 0", "value": "bottom"}], "value": "middle"}}}
      }
    },
    {
      "data": {"name": "bars"},
      "mark": {"type": "line", "color": "#ff0000", "strokeWidth": 1, "strokeDash": [2, 2]},
      "encoding": {"x": {"field": "i", "type": "quantitative"}, "y": {"field": "d", "type": "quantitative"}}
    }
  ]
}
]
}
